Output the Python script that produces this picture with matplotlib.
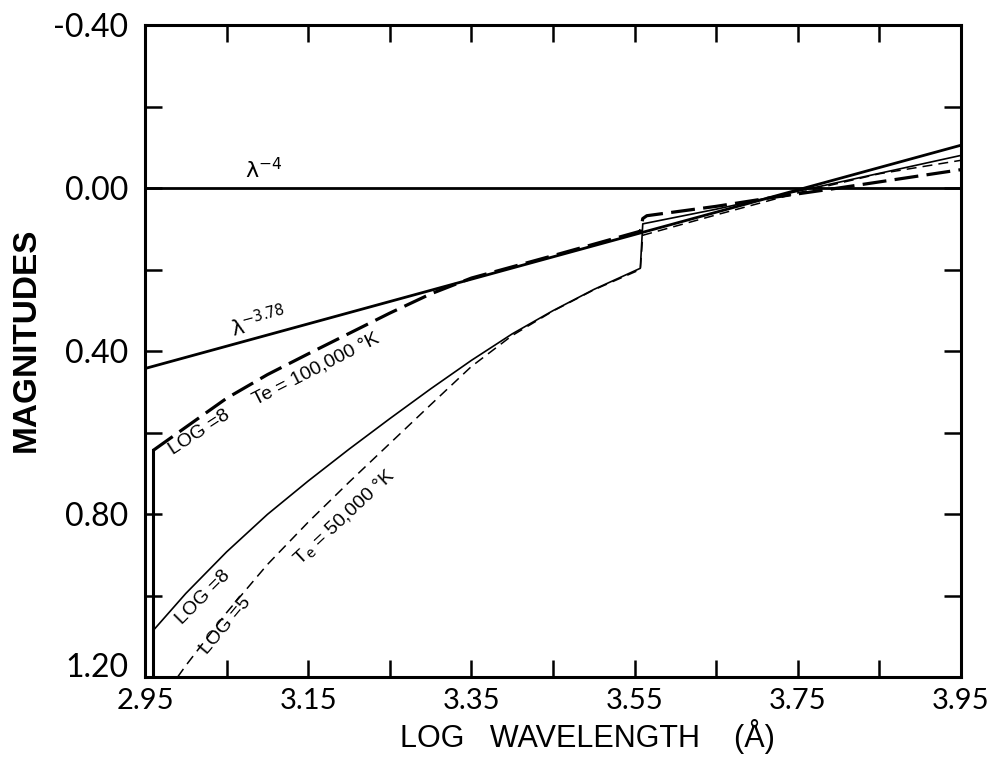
import matplotlib
matplotlib.use("Agg")
import matplotlib.pyplot as plt
from matplotlib import font_manager as fm

# ---------------- data ----------------
x_major = [2.95, 3.15, 3.35, 3.55, 3.75, 3.95]
x_major_labels = ["2.95", "3.15", "3.35", "3.55", "3.75", "3.95"]
x_minor = [3.05, 3.25, 3.45, 3.65, 3.85]
y_major = [-0.40, 0.00, 0.40, 0.80, 1.20]
y_major_labels = ["-0.40", "0.00", "0.40", "0.80", "1.20"]
y_minor = [-0.20, 0.20, 0.60, 1.00]

# power laws
lam4_x = [2.95, 3.95]
lam4_y = [0.00, 0.00]
lam378_x = [2.95, 3.95]
lam378_y = [0.443, -0.105]

lyman_jump = 2.96

# Te = 100,000 K, log g = 8 (thick dashed)
hot8_x = [2.96, 3.00, 3.05, 3.10, 3.15, 3.20, 3.25, 3.30, 3.35, 3.45, 3.557,
          3.56, 3.565, 3.65, 3.72, 3.80, 3.88, 3.95]
hot8_y = [0.644, 0.587, 0.516, 0.458, 0.407, 0.357, 0.307, 0.260, 0.221, 0.166, 0.106,
          0.075, 0.068, 0.045, 0.023, 0.000, -0.024, -0.045]

# Te = 50,000 K, log g = 8 (thin solid)
cool8_x = [2.96, 3.00, 3.05, 3.10, 3.15, 3.20, 3.25, 3.30, 3.35, 3.40, 3.45, 3.50, 3.557,
           3.56, 3.65, 3.75, 3.85, 3.95]
cool8_y = [1.086, 0.995, 0.893, 0.801, 0.719, 0.641, 0.566, 0.493, 0.423, 0.358, 0.301, 0.249, 0.197,
           0.088, 0.052, 0.008, -0.036, -0.080]

# Te = 50,000 K, log g = 5 (thin dashed)
cool5_x = [2.99, 3.00, 3.05, 3.10, 3.15, 3.20, 3.25, 3.30, 3.35, 3.40, 3.45, 3.50, 3.557,
           3.56, 3.65, 3.75, 3.85, 3.95]
cool5_y = [1.20, 1.172, 1.042, 0.924, 0.820, 0.722, 0.627, 0.532, 0.438, 0.362, 0.302, 0.250, 0.200,
           0.116, 0.066, 0.012, -0.035, -0.068]

# ---------------- fonts ----------------
avail = {f.name for f in fm.fontManager.ttflist}


def pick(*names):
    for n in names:
        if n in avail:
            return n
    return "DejaVu Sans"


tick_font = pick("Lato", "Liberation Sans", "DejaVu Sans")
label_font = pick("Liberation Sans", "DejaVu Sans")
note_font = pick("Liberation Sans Narrow", "Liberation Sans", "DejaVu Sans")

# ---------------- figure ----------------
fig = plt.figure(figsize=(9.9, 7.62), dpi=100)
ax = fig.add_axes([145 / 990, 1 - 677 / 762, 816 / 990, 652 / 762])
ax.set_xlim(2.95, 3.95)
ax.set_ylim(1.20, -0.40)

lw_thick = 2.0
ax.plot(lam4_x, lam4_y, color="black", lw=lw_thick, solid_capstyle="butt")
ax.plot(lam378_x, lam378_y, color="black", lw=lw_thick, solid_capstyle="butt")

# Te = 100,000 K
ax.plot([lyman_jump, lyman_jump], [1.20, hot8_y[0]], color="black", lw=2.2)
ax.plot(hot8_x, hot8_y, color="black", lw=2.3, dashes=(7.5, 2.6))

# Te = 50,000 K
ax.plot([lyman_jump, lyman_jump], [1.20, cool8_y[0]], color="black", lw=1.3)
ax.plot(cool8_x, cool8_y, color="black", lw=1.2)
ax.plot(cool5_x, cool5_y, color="black", lw=1.1, dashes=(6.5, 4.0))

# ---------------- axes styling ----------------
for s in ax.spines.values():
    s.set_linewidth(2.2)

ax.set_xticks(x_major)
ax.set_xticklabels(x_major_labels)
ax.set_xticks(x_minor, minor=True)
ax.set_yticks(y_major)
ax.set_yticklabels(y_major_labels)
ax.set_yticks(y_minor, minor=True)

ax.tick_params(which="both", direction="in", length=12, width=1.8,
               top=True, right=True)
ax.tick_params(axis="x", which="major", pad=8, labelsize=21, labelcolor="black")
ax.tick_params(axis="y", which="major", pad=12, labelsize=23, labelcolor="black")
for lab in ax.get_xticklabels() + ax.get_yticklabels():
    lab.set_fontfamily(tick_font)
    lab.set_fontweight("normal")
ax.get_yticklabels()[-1].set_va("baseline")

ax.set_xlabel("LOG   WAVELENGTH    (Å)", fontsize=22, fontfamily=label_font)
ax.xaxis.label.set_va("baseline")
ax.xaxis.set_label_coords((587 - 145) / 816, (677 - 747) / 652)

ax.set_ylabel("MAGNITUDES", fontsize=24, fontweight="bold", fontfamily=label_font)
ax.yaxis.label.set_va("center")
ax.yaxis.set_label_coords((26 - 145) / 816, (677 - 340) / 652)

# ---------------- annotations ----------------
ax.text(3.073, -0.024, "λ$^{-4}$", fontsize=16, ha="left", va="baseline")
ax.text(3.058, 0.367, "λ$^{-3.78}$", fontsize=15, ha="left", va="baseline",
        rotation=15, rotation_mode="anchor")
ax.text(3.160, 0.445, "Te = 100,000 °K", fontsize=14, fontfamily=note_font,
        ha="center", va="center", rotation=27, rotation_mode="anchor")
ax.text(3.017, 0.600, "LOG =8", fontsize=14, fontfamily=note_font,
        ha="center", va="center", rotation=33, rotation_mode="anchor")
ax.text(3.195, 0.810, "T$_{\\rm e}$ = 50,000 °K", fontsize=14, fontfamily=note_font,
        ha="center", va="center", rotation=43, rotation_mode="anchor")
ax.text(3.021, 1.005, "LOG =8", fontsize=14, fontfamily=note_font,
        ha="center", va="center", rotation=45, rotation_mode="anchor")
ax.text(3.049, 1.074, "LOG =5", fontsize=14, fontfamily=note_font,
        ha="center", va="center", rotation=50, rotation_mode="anchor")

fig.savefig("out.png", dpi=100)
